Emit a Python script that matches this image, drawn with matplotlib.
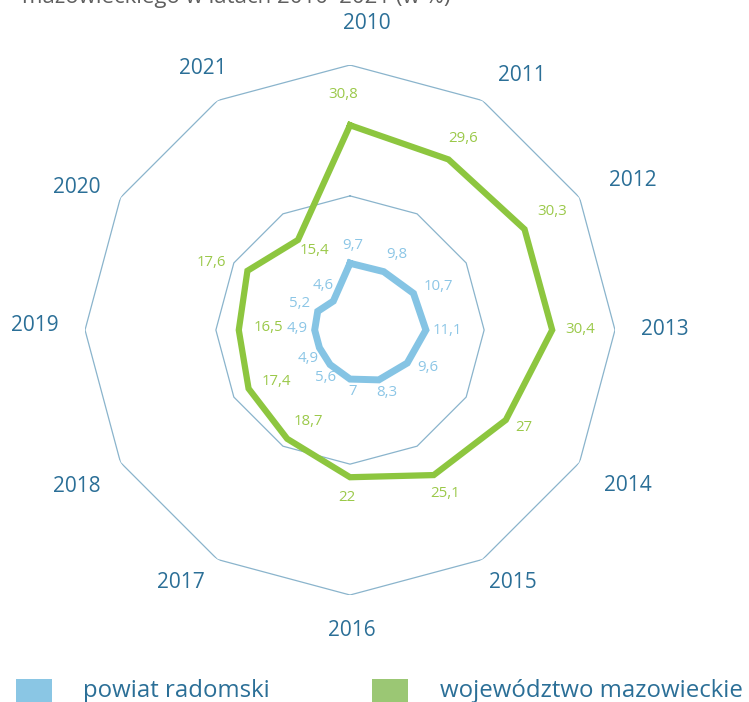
import numpy as np
import matplotlib.pyplot as plt
from matplotlib.patches import Rectangle

plt.rcParams['font.family'] = ['Open Sans', 'DejaVu Sans']

# data
years = ['2010', '2011', '2012', '2013', '2014', '2015',
         '2016', '2017', '2018', '2019', '2020', '2021']
powiat = [9.7, 9.8, 10.7, 11.1, 9.6, 8.3, 7, 5.6, 4.9, 4.9, 5.2, 4.6]
woj = [30.8, 29.6, 30.3, 30.4, 27, 25.1, 22, 18.7, 17.4, 16.5, 17.6, 15.4]
series_names = ['powiat radomski', 'województwo mazowieckie']

# label offsets in pixels (dx, dy)
off_powiat = [(3, 18), (13, 17), (25, 7), (21, 0), (21, -4), (8, -13),
              (3, -12), (-4, -13), (-11, -11), (-17, 2), (-18, 8), (-10, 16)]
off_woj = [(-7, 31), (15, 21), (28, 18), (28, 1), (18, -8), (11, -18),
           (-3, -20), (21, 17), (28, 7), (30, 3), (-36, 8), (16, -11)]
# year label offsets from the centre, pixels
off_years = [(17, 307), (172, 255), (283, 150), (315, 1), (278, -155),
             (163, -252), (2, -300), (-169, -252), (-273, -156), (-315, 5),
             (-273, 143), (-147, 262)]

c_blue = '#85c4e4'
c_green = '#8dc63f'
c_blue_lab = '#8cc6e6'
c_green_lab = '#9bc94a'
c_text = '#2b6f97'
c_grid = '#8ab4cc'

n = len(years)
theta = np.arange(n) * 2 * np.pi / n
theta_c = np.append(theta, theta[0])

fig = plt.figure(figsize=(7.49, 7.02), dpi=100)
ax = fig.add_axes([0.1135, 0.1524, 0.7076, 0.755], projection='polar')
ax.set_theta_offset(np.pi / 2)
ax.set_theta_direction(-1)
ax.set_ylim(-0.5, 40)
ax.grid(False)
ax.set_xticks([])
ax.set_yticks([])
ax.spines['polar'].set_visible(False)
ax.patch.set_visible(False)

# polygon grid
for lev in [20, 40]:
    ax.plot(theta_c, [lev] * (n + 1), color=c_grid, lw=0.9, zorder=1)

ax.plot(theta_c, np.append(woj, woj[0]), color=c_green, lw=4.5,
        solid_joinstyle='miter', zorder=3)
ax.plot(theta_c, np.append(powiat, powiat[0]), color=c_blue, lw=5,
        solid_joinstyle='miter', zorder=3)

for i in range(n):
    ax.annotate(str(woj[i]).replace('.', ','), (theta[i], woj[i]),
                xytext=off_woj[i], textcoords='offset pixels',
                ha='center', va='center', fontsize=10.8, color=c_green_lab)
    ax.annotate(str(powiat[i]).replace('.', ','), (theta[i], powiat[i]),
                xytext=off_powiat[i], textcoords='offset pixels',
                ha='center', va='center', fontsize=10.8, color=c_blue_lab)
    # year labels around the chart
    ax.annotate(years[i], (0, -0.5), xytext=off_years[i],
                textcoords='offset pixels', ha='center', va='center',
                fontsize=15, color=c_text)

# cut-off title at top
fig.text(22 / 749, 699.5 / 702, 'mazowieckiego w latach 2010–2021 (w %)',
         ha='left', va='baseline', fontsize=16, color='#5f5f5f')

# legend
fig.add_artist(Rectangle((16 / 749, -0.03), 36 / 749, 0.0628,
                         transform=fig.transFigure, color='#8ac6e4', lw=0))
fig.add_artist(Rectangle((372 / 749, -0.03), 36 / 749, 0.0628,
                         transform=fig.transFigure, color='#9bc774', lw=0))
fig.text(83 / 749, 5 / 702, series_names[0], ha='left', va='baseline',
         fontsize=17.3, color=c_text)
fig.text(440 / 749, 5 / 702, series_names[1], ha='left', va='baseline',
         fontsize=17.3, color=c_text)

fig.savefig('out.png', dpi=100)
